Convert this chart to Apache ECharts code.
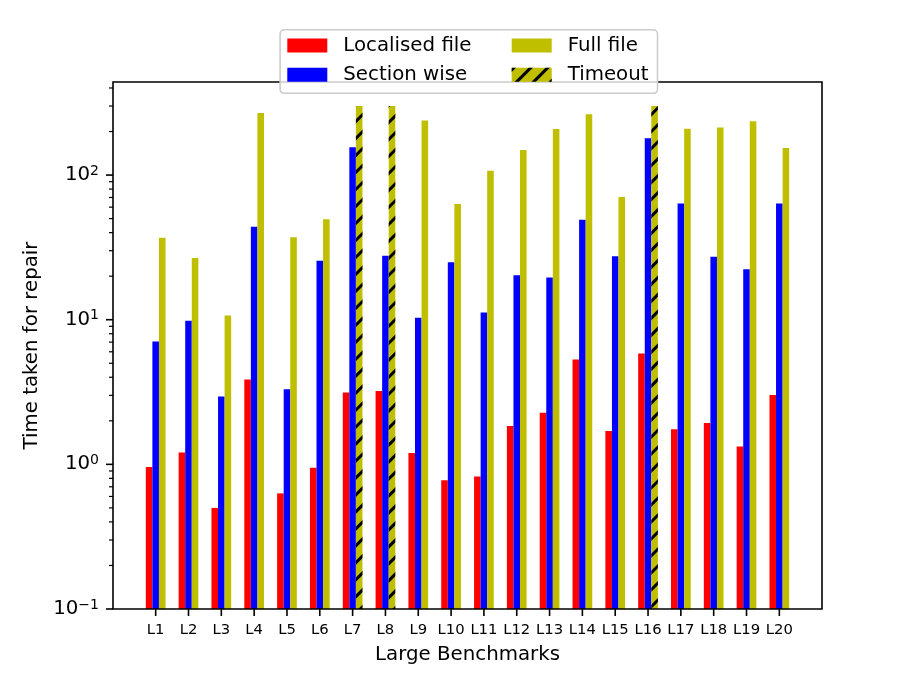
<!DOCTYPE html>
<html><head><meta charset="utf-8">
<script src="https://cdn.jsdelivr.net/npm/echarts@6/dist/echarts.min.js"></script>
<style>html,body{margin:0;padding:0;background:#fff}#c{width:913px;height:685px}</style>
</head><body><div id="c"></div>
<script>
const categories = ['L1','L2','L3','L4','L5','L6','L7','L8','L9','L10','L11','L12','L13','L14','L15','L16','L17','L18','L19','L20'];
const localised = [0.96,1.21,0.50,3.86,0.63,0.946,3.14,3.22,1.20,0.776,0.825,1.84,2.27,5.31,1.70,5.83,1.75,1.93,1.33,3.02];
const sectionWise = [7.08,9.84,2.95,43.9,3.31,25.6,156,27.7,10.3,25.0,11.2,20.3,19.6,49.2,27.5,180,63.7,27.2,22.3,63.7];
const fullFile = [36.8,26.7,10.7,269,37.2,49.5,null,null,238,63,107,149,208,263,70.4,null,209,213,236,154];
const timeout = [null,null,null,null,null,null,300,300,null,null,null,null,null,null,null,300,null,null,null,null];
const yTickValues = [0.1, 1, 10, 100];
const Y_MIN = 0.1, Y_MAX = 440;
const X_MIN = -1.3, X_MAX = 20.3;
const FONT = 'DejaVu Sans';
const RED = '#ff0000', BLUE = '#0000ff', YEL = '#bfbf00';

const hatch = {symbol:'rect', symbolSize:1, color:'#000', dashArrayX:[1,0], dashArrayY:[2.6,8.4], rotation: -Math.PI/4};

const yMinor = [];
yTickValues.forEach(b => { for (let m = 2; m <= 9; m++) { const v = m*b; if (v <= Y_MAX) yMinor.push(v); } });
const yTickData = yTickValues.map(v => [X_MIN, v, 1]).concat(yMinor.map(v => [X_MIN, v, 0]));

const pts = arr => arr.map((v, i) => v == null ? null : [i, v]);
const yellowData = categories.map((c, i) => {
  if (timeout[i] != null) return {value:[i, timeout[i]], itemStyle:{decal: hatch}};
  return fullFile[i] == null ? null : [i, fullFile[i]];
}).filter(d => d != null);

const legendCommon = {orient:'vertical', padding:0, itemWidth:40, itemHeight:14, itemGap:9.1,
  icon:'rect', z:6, selectedMode:false,
  textStyle:{fontSize:19.8, color:'#000', fontFamily:FONT, lineHeight:14, padding:[0,0,0,11]}};

const chart = echarts.init(document.getElementById('c'), null, {renderer:'canvas'});
const option = {
  animation: false,
  backgroundColor: '#fff',
  textStyle: {fontFamily: FONT},
  grid: {left:113, right:91, top:82, bottom:76, show:false},
  xAxis: {
    type:'value', min:X_MIN, max:X_MAX,
    axisLine:{show:false}, axisTick:{show:false}, axisLabel:{show:false}, splitLine:{show:false},
    name:'Large Benchmarks', nameLocation:'middle', nameGap:36,
    nameTextStyle:{fontSize:19.8, color:'#000', fontFamily:FONT}
  },
  yAxis: {
    type:'log', logBase:10, min:Y_MIN, max:Y_MAX, startValue: Y_MIN,
    axisLine:{show:false}, axisTick:{show:false}, splitLine:{show:false},
    axisLabel:{
      margin:14, color:'#000',
      formatter: v => {
        const e = Math.log10(v), r = Math.round(e);
        if (Math.abs(e - r) > 1e-6) return '';
        return '{b|10}{s|' + (r < 0 ? '\u2212' + (-r) : r) + '}';
      },
      rich: {
        b:{fontSize:19.8, lineHeight:22, fontFamily:FONT, color:'#000'},
        s:{fontSize:14, lineHeight:14, verticalAlign:'top', fontFamily:FONT, color:'#000'}
      }
    },
    name:'Time taken for repair', nameLocation:'middle', nameGap:56,
    nameTextStyle:{fontSize:19.8, color:'#000', fontFamily:FONT}
  },
  legend: [
    Object.assign({}, legendCommon, {data:['Localised file','Section wise'], left:287.3, top:35.6}),
    Object.assign({}, legendCommon, {data:['Full file', {name:'Timeout', itemStyle:{decal:hatch}}], left:511.7, top:35.6})
  ],
  graphic: [{type:'rect', left:279.3, top:29, shape:{width:377.4, height:63.5, r:4}, style:{fill:'rgba(255,255,255,0.8)', stroke:'#cccccc', lineWidth:1.6}, z:5}],
  series: [
    {name:'Localised file', type:'bar', data:pts(localised), barWidth:'20%', barGap:'0%', itemStyle:{color:RED}},
    {name:'Section wise', type:'bar', data:pts(sectionWise), barWidth:'20%', barGap:'0%', itemStyle:{color:BLUE}},
    {name:'Full file', type:'bar', data:yellowData, barWidth:'20%', barGap:'0%', itemStyle:{color:YEL}},
    {name:'Timeout', type:'custom', data:[], itemStyle:{color:YEL, decal:hatch}, renderItem: () => null},
    {name:'frame', type:'custom', z:4, silent:true, data:[[X_MIN, Y_MIN]],
     renderItem: (params, api) => {
       const cs = params.coordSys;
       return {type:'rect', shape:{x:cs.x, y:cs.y, width:cs.width, height:cs.height}, style:{fill:null, stroke:'#000', lineWidth:1.6}};
     }},
    {name:'yticks', type:'custom', z:4, silent:true, data:yTickData, encode:{x:0, y:1},
     renderItem: (params, api) => {
       const cs = params.coordSys;
       const y = api.coord([api.value(0), api.value(1)])[1];
       const major = api.value(2) === 1;
       const len = major ? 7 : 4;
       return {type:'line', shape:{x1:cs.x - len, y1:y, x2:cs.x, y2:y}, style:{stroke:'#000', lineWidth: major ? 1.6 : 1.2}};
     }},
    {name:'xticks', type:'custom', z:4, silent:true, data:categories.map((c, i) => [i, Y_MIN]), encode:{x:0, y:1},
     renderItem: (params, api) => {
       const cs = params.coordSys;
       const x = api.coord([api.value(0), api.value(1)])[0];
       const yb = cs.y + cs.height;
       return {type:'group', children:[
         {type:'line', shape:{x1:x, y1:yb, x2:x, y2:yb + 7}, style:{stroke:'#000', lineWidth:1.6}},
         {type:'text', x:x, y:yb + 21.5, style:{text:categories[params.dataIndex], fontSize:14.8, fontFamily:FONT, fill:'#000', align:'center', verticalAlign:'middle'}}
       ]};
     }}
  ]
};
chart.setOption(option);
</script>
</body></html>
